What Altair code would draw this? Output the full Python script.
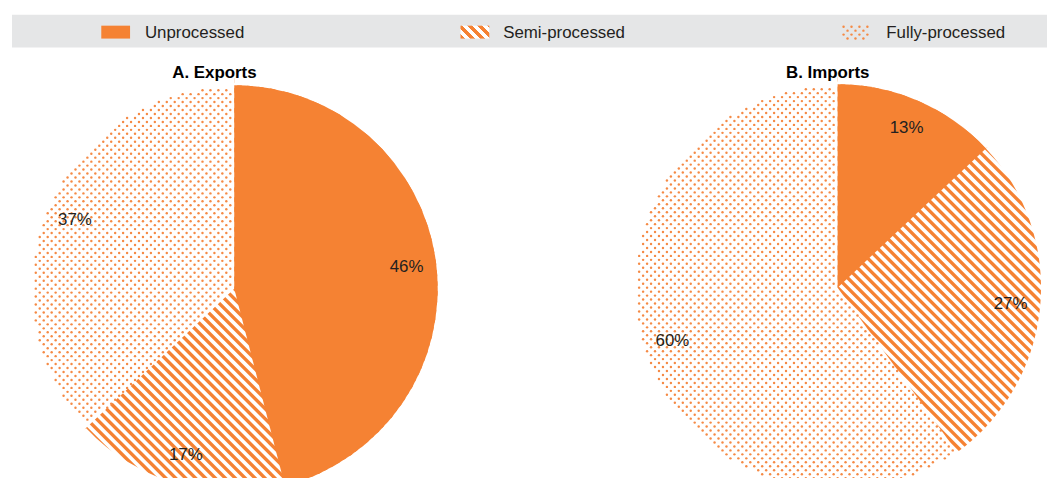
import math
import altair as alt
import pandas as pd

# ---------------- data ----------------
categories = ["Unprocessed", "Semi-processed", "Fully-processed"]
panels = ["A. Exports", "B. Imports"]
exports_share = [46, 17, 37]
imports_share = [13, 27, 60]

# ---------------- style / layout ----------------
ORANGE = "#f58233"
DOT = "#f58a45"
TEXT = "#231f20"
BAND = "#e5e6e7"
FONT = "Liberation Sans"
R = 205
centers = {"A. Exports": (228, 281), "B. Imports": (836, 280)}
title_pos = {"A. Exports": (208, 69), "B. Imports": (826, 69)}
legend_sym_x = [94, 456, 839]
legend_txt_x = [138, 499, 885]
SYM_W, SYM_Y0, SYM_Y1 = 29, 16, 29
W, H = 1047, 470
STRIPE_P = 10 / math.sqrt(2)   # perpendicular stripe period (px)
STRIPE_N = 64
DOT_ROW, DOT_COL = 4, 8        # dot lattice spacing (px)
S = 1 / math.sqrt(2)

rows = []
for p, vals in zip(panels, [exports_share, imports_share]):
    for i, (c, v) in enumerate(zip(categories, vals)):
        rows.append({"panel": p, "category": c, "value": v, "order": i,
                     "label": f"{v}%"})
df = pd.DataFrame(rows)


def stripes(w, h, color, bg="#ffffff"):
    """Diagonal stripes as a hard-stop linear gradient (used for the legend swatch)."""
    nx, ny = S, -S
    L = STRIPE_N * STRIPE_P
    gx, gy = nx * w / L, ny * h / L
    g2 = gx * gx + gy * gy
    vx, vy = gx / g2, gy / g2
    stops = []
    for k in range(STRIPE_N):
        a, b, c = k / STRIPE_N, (k + 0.5) / STRIPE_N, (k + 1) / STRIPE_N
        stops += [(a, color), (b, color), (b, bg), (c, bg)]
    return alt.LinearGradient(
        gradient="linear", x1=0, y1=1, x2=vx, y2=1 + vy,
        stops=[alt.GradientStop(offset=o, color=col) for o, col in stops])


theta_scale = alt.Scale(domain=[0, 100], range=[0, 2 * math.pi])

base = alt.Chart(df).transform_window(
    end="sum(value)", sort=[alt.SortField("order")], groupby=["panel"], frame=[None, 0]
).transform_calculate(
    start="datum.end - datum.value"
).transform_calculate(
    mid="datum.end - datum.value / 2"
)

layers = []

# legend band
layers.append(
    alt.Chart(pd.DataFrame({"k": [0]})).mark_rect(color=BAND).encode(
        x=alt.value(4), x2=alt.value(W), y=alt.value(5), y2=alt.value(38))
)

# legend symbols + text
leg = pd.DataFrame({"category": categories,
                    "sx": legend_sym_x,
                    "sx2": [x + SYM_W for x in legend_sym_x],
                    "tx": legend_txt_x})
layers.append(
    alt.Chart(leg).transform_filter(alt.datum.category == categories[0]).mark_rect(fill=ORANGE).encode(
        x=alt.X("sx:Q", scale=None), x2="sx2:Q", y=alt.value(SYM_Y0), y2=alt.value(SYM_Y1))
)
layers.append(
    alt.Chart(leg).transform_filter(alt.datum.category == categories[1]).mark_rect(
        fill=stripes(SYM_W, SYM_Y1 - SYM_Y0, ORANGE)).encode(
        x=alt.X("sx:Q", scale=None), x2="sx2:Q", y=alt.value(SYM_Y0), y2=alt.value(SYM_Y1))
)
layers.append(
    alt.Chart(leg).transform_filter(alt.datum.category == categories[2])
    .transform_calculate(iy="sequence(0, 4)").transform_flatten(["iy"])
    .transform_calculate(ix="sequence(0, 4)").transform_flatten(["ix"])
    .transform_calculate(px=f"datum.sx + 3 + datum.ix * {DOT_COL} + (datum.iy % 2) * {DOT_COL // 2}")
    .transform_calculate(py=f"{SYM_Y0 + 1} + datum.iy * {DOT_ROW}")
    .transform_filter("datum.px <= datum.sx2 - 1")
    .mark_circle(color=DOT, size=6, opacity=1).encode(
        x=alt.X("px:Q", scale=None), y=alt.Y("py:Q", scale=None))
)
layers.append(
    alt.Chart(leg).mark_text(align="left", baseline="middle", font=FONT, fontSize=17,
                             color=TEXT).encode(
        x=alt.X("tx:Q", scale=None), y=alt.value(23), text="category:N")
)

# pies
K = int(R / STRIPE_P) + 2
RX = R + 6  # hatch chords run slightly past the rim and are trimmed by a white ring
for p in panels:
    cx, cy = centers[p]

    def sel(cat):
        return base.transform_filter((alt.datum.panel == p) & (alt.datum.category == cat))

    # 1) hatching for the semi-processed share: diagonal chords across the disc
    layers.append(
        sel("Semi-processed")
        .transform_calculate(k=f"sequence({-K}, {K + 1})").transform_flatten(["k"])
        .transform_calculate(c=f"datum.k * {STRIPE_P}")
        .transform_filter(f"abs(datum.c) < {RX}")
        .transform_calculate(hl=f"sqrt({RX * RX} - datum.c * datum.c)")
        .transform_calculate(xa=f"{cx} + (datum.c - datum.hl) * {S}")
        .transform_calculate(ya=f"{cy} + (-datum.c - datum.hl) * {S}")
        .transform_calculate(xb=f"{cx} + (datum.c + datum.hl) * {S}")
        .transform_calculate(yb=f"{cy} + (-datum.c + datum.hl) * {S}")
        .mark_rule(color=ORANGE, strokeWidth=STRIPE_P * 0.48, strokeCap="butt").encode(
            x=alt.X("xa:Q", scale=None), y=alt.Y("ya:Q", scale=None),
            x2="xb:Q", y2="yb:Q")
    )
    # white ring trimming the hatch ends to the pie's rim
    layers.append(
        sel("Semi-processed").mark_arc(fill="#ffffff", radius=R + 14, radius2=R).encode(
            theta=alt.Theta("start:Q", scale=theta_scale), theta2="end:Q",
            x=alt.value(cx), y=alt.value(cy))
    )
    # 2) white fully-processed slice (hides hatching there) + dot lattice
    layers.append(
        sel("Fully-processed").mark_arc(fill="#ffffff", radius=R + 14).encode(
            theta=alt.Theta("start:Q", scale=theta_scale), theta2="end:Q",
            x=alt.value(cx), y=alt.value(cy))
    )
    nrow = 2 * R // DOT_ROW + 2
    ncol = 2 * R // DOT_COL + 2
    layers.append(
        sel("Fully-processed")
        .transform_calculate(iy=f"sequence(0, {nrow})").transform_flatten(["iy"])
        .transform_calculate(ix=f"sequence(0, {ncol})").transform_flatten(["ix"])
        .transform_calculate(dy=f"datum.iy * {DOT_ROW} - {(nrow // 2) * DOT_ROW}")
        .transform_calculate(
            dx=f"datum.ix * {DOT_COL} - {(ncol // 2) * DOT_COL} + (datum.iy % 2) * {DOT_COL // 2}")
        .transform_calculate(
            ang="((atan2(datum.dx, -datum.dy) + 2 * PI) % (2 * PI)) * 100 / (2 * PI)")
        .transform_calculate(rr="sqrt(datum.dx * datum.dx + datum.dy * datum.dy)")
        .transform_filter(
            f"datum.rr <= {R - 1.5} && datum.rr > 0 && datum.ang >= datum.start && datum.ang <= datum.end")
        .transform_calculate(px=f"{cx} + datum.dx")
        .transform_calculate(py=f"{cy} + datum.dy")
        .mark_circle(color=DOT, size=6, opacity=1).encode(
            x=alt.X("px:Q", scale=None), y=alt.Y("py:Q", scale=None))
    )
    # 3) solid unprocessed slice, with a white rim beyond it to hide hatch overhang
    layers.append(
        sel("Unprocessed").mark_arc(fill="#ffffff", radius=R + 14, radius2=R).encode(
            theta=alt.Theta("start:Q", scale=theta_scale), theta2="end:Q",
            x=alt.value(cx), y=alt.value(cy))
    )
    layers.append(
        sel("Unprocessed").mark_arc(fill=ORANGE, radius=R).encode(
            theta=alt.Theta("start:Q", scale=theta_scale), theta2="end:Q",
            x=alt.value(cx), y=alt.value(cy))
    )
    # percentage labels
    layers.append(
        base.transform_filter(alt.datum.panel == p).mark_text(
            radius=175, font=FONT, fontSize=17, color=TEXT, baseline="middle", align="center"
        ).encode(
            theta=alt.Theta("mid:Q", scale=theta_scale),
            text="label:N",
            x=alt.value(cx), y=alt.value(cy))
    )
    # panel title
    tx, ty = title_pos[p]
    layers.append(
        alt.Chart(pd.DataFrame({"t": [p]})).mark_text(
            font=FONT, fontSize=17, fontWeight="bold", color="#000000",
            align="center", baseline="alphabetic"
        ).encode(x=alt.value(tx), y=alt.value(ty), text="t:N")
    )

chart = alt.layer(*layers).properties(
    width=W, height=H, padding=0, autosize="none"
).configure_view(strokeWidth=0)

chart.save("out.html", embed_options={"renderer": "svg", "actions": False})
